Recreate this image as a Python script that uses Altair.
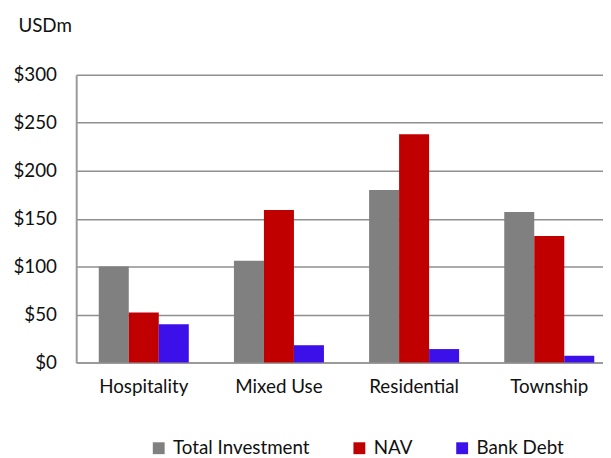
import altair as alt
import pandas as pd

categories = ["Hospitality", "Mixed Use", "Residential", "Township"]
series = ["Total Investment", "NAV", "Bank Debt"]
total_investment = [100, 106, 180, 157]
nav = [52, 159, 238, 132]
bank_debt = [40, 18, 14, 7]
colors = ["#808080", "#C00000", "#3C10E8"]
y_ticks = [0, 50, 100, 150, 200, 250, 300]

rows = []
for s, vals in zip(series, [total_investment, nav, bank_debt]):
    for c, v in zip(categories, vals):
        rows.append({"category": c, "series": s, "value": v})
df = pd.DataFrame(rows)

FONT = "Lato"

chart = alt.Chart(df).mark_bar().encode(
    x=alt.X("category:N", sort=categories,
            scale=alt.Scale(range=[0, 547], paddingInner=0.334, paddingOuter=0.167),
            axis=alt.Axis(title=None, labelAngle=0, ticks=False, labelPadding=15,
                          domainColor="#9a9a9a", domainWidth=2,
                          labelFont=FONT, labelFontSize=19, labelColor="#111111")),
    xOffset=alt.XOffset("series:N", sort=series,
                        scale=alt.Scale(paddingInner=0, paddingOuter=0)),
    y=alt.Y("value:Q", scale=alt.Scale(domain=[0, 300], nice=False),
            axis=alt.Axis(values=y_ticks, labelExpr="'$' + datum.value", ticks=False,
                          labelPadding=20, grid=True, gridColor="#8f8f8f", gridWidth=1.5,
                          domainColor="#9a9a9a", domainWidth=2,
                          labelFont=FONT, labelFontSize=19, labelColor="#111111",
                          title="USDm", titleAngle=0, titleX=-59, titleY=-50,
                          titleAlign="left", titleBaseline="middle",
                          titleFont=FONT, titleFontSize=19, titleFontWeight="normal",
                          titleColor="#111111")),
    color=alt.Color("series:N", sort=series,
                    scale=alt.Scale(domain=series, range=colors),
                    legend=alt.Legend(title=None, orient="none", direction="horizontal",
                                      legendX=74, legendY=368, symbolType="square",
                                      symbolSize=144, symbolStrokeWidth=0,
                                      labelFont=FONT, labelFontSize=19, labelColor="#111111",
                                      labelOffset=5, columnPadding=40)),
).properties(
    width=533,
    height=291,
    autosize=alt.AutoSizeParams(type="none"),
    padding={"left": 69, "top": 65, "right": 0, "bottom": 94},
).configure_view(strokeWidth=0)

chart.save("out.html", embed_options={"renderer": "svg", "actions": False})
